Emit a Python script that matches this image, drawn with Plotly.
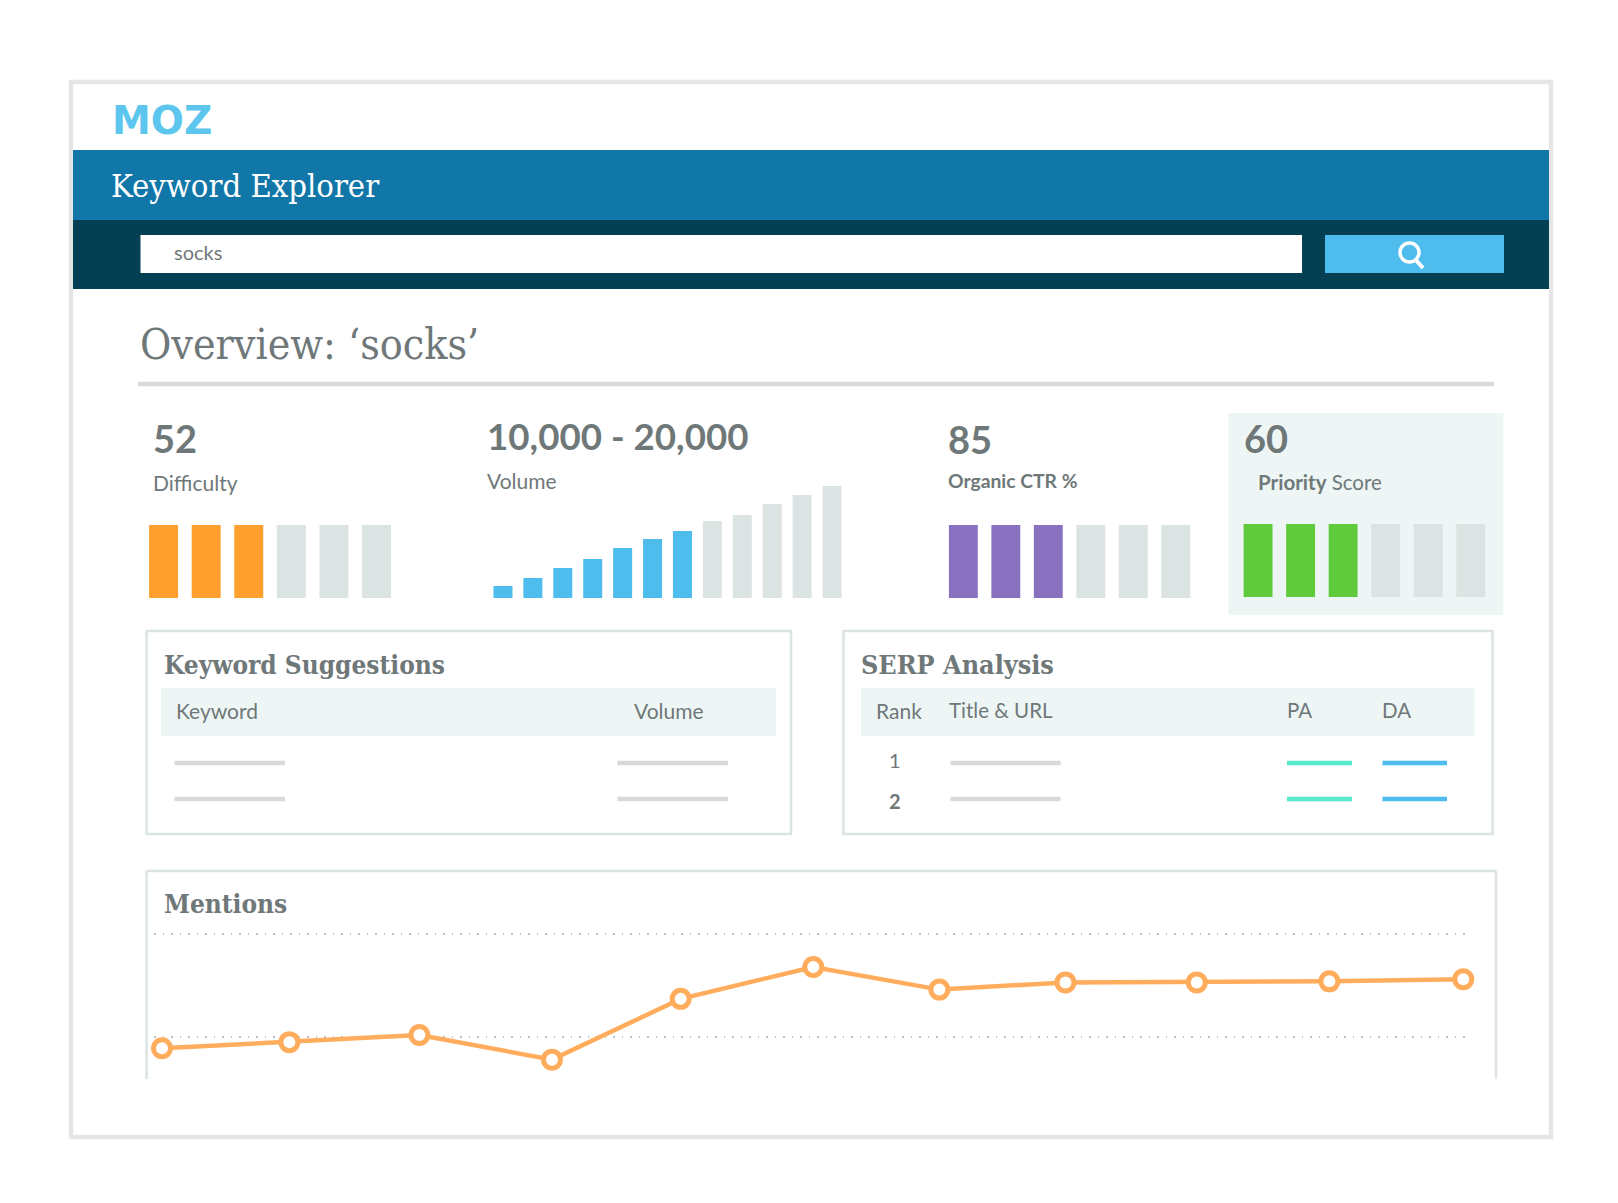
import plotly.graph_objects as go

W, H = 1618, 1203

difficulty_bars = [1, 1, 1, 1, 1, 1]
organic_bars = [1, 1, 1, 1, 1, 1]
priority_bars = [1, 1, 1, 1, 1, 1]
volume_bars = [12, 20, 30, 39, 50, 59, 67, 77, 83, 94, 103, 112]
difficulty_filled = 3
organic_filled = 3
priority_filled = 3
volume_filled = 7

mention_x = [0, 9.8, 19.8, 30.0, 39.9, 50.1, 59.8, 69.5, 79.6, 89.8, 100.1]
mention_y = [89, 95, 102, 78, 137, 168, 146, 153, 153, 154, 156]
mention_grid = [100, 200]

GRAY = '#DCE4E3'
TEXT = '#6F7879'
SLAB = 'DejaVu Serif Condensed, Liberation Serif, serif'
SANS = 'Lato, sans-serif'


def px(x):
    return x / W


def py(y):
    return 1 - y / H


shapes = []
annotations = []


def rect(x0, y0, x1, y1, fill=None, line=None, lw=0):
    shapes.append(dict(type='rect', xref='paper', yref='paper', x0=px(x0), x1=px(x1), y0=py(y0), y1=py(y1),
                       fillcolor=fill or 'rgba(0,0,0,0)', line=dict(color=line or 'rgba(0,0,0,0)', width=lw), layer='below'))


def rule(x0, y0, x1, y1, color, lw=4.5):
    shapes.append(dict(type='line', xref='paper', yref='paper', x0=px(x0), x1=px(x1), y0=py(y0), y1=py(y1),
                       line=dict(color=color, width=lw), layer='below'))


def text(x, y, s, size, color=TEXT, font=SANS, anchor='left'):
    annotations.append(dict(xref='paper', yref='paper', x=px(x), y=py(y), text=s, showarrow=False, xanchor=anchor, yanchor='middle',
                            font=dict(size=size, color=color, family=font), borderpad=0, borderwidth=0))


# page frame and header
rect(71, 82, 1551, 1137, '#FFFFFF', '#E5E6E6', 4.5)
rect(73, 150, 1549, 220, '#1176A8')
rect(73, 220, 1549, 289, '#053F54')
rect(140.5, 235, 1302, 273, '#FFFFFF')
rect(1325, 235, 1504, 273, '#4EBCEC')
shapes.append(dict(type='circle', xref='paper', yref='paper', x0=px(1400), x1=px(1419), y0=py(243), y1=py(262),
                   fillcolor='rgba(0,0,0,0)', line=dict(color='#FFFFFF', width=3.5)))
rule(1415, 259, 1423, 268, '#FFFFFF', 4)
rule(138, 384, 1494, 384, '#DBDBDB', 4.5)

text(112, 120, '<b>MOZ</b>', 39, '#5CC6EE', 'DejaVu Sans')
text(111, 186, 'Keyword Explorer', 32.5, '#FFFFFF', SLAB)
text(174, 252, 'socks', 20)
text(140, 344, 'Overview: ‘socks’', 42.5, TEXT, SLAB)

# score blocks
rect(1228.7, 413, 1503.3, 615, '#EEF6F5')
text(153, 438, '<b>52</b>', 38)
text(153, 482, 'Difficulty', 21)
text(487, 436, '<b>10,000 - 20,000</b>', 36.7)
text(487, 480, 'Volume', 21)
text(948, 439, '<b>85</b>', 38)
text(948, 480, '<b>Organic CTR %</b>', 19.3)
text(1244, 438, '<b>60</b>', 38)
text(1258, 482, '<b>Priority</b> Score', 20.5)

# keyword suggestions panel
rect(146.6, 631, 791, 834, None, GRAY, 2.5)
rect(161, 688, 776, 736, '#EEF6F5')
text(164, 664.5, '<b>Keyword Suggestions</b>', 26, TEXT, SLAB)
text(176, 710, 'Keyword', 21)
text(634, 710, 'Volume', 21)
for y in [763, 799]:
    rule(174.5, y, 285, y, '#D9D9D9')
    rule(617.4, y, 728, y, '#D9D9D9')

# serp panel
rect(843.5, 631, 1492.5, 834, None, GRAY, 2.5)
rect(861, 688, 1474.5, 736, '#EEF6F5')
text(861, 664, '<b>SERP Analysis</b>', 26.7, TEXT, SLAB)
text(876, 710, 'Rank', 21)
text(949, 710, 'Title &amp; URL', 20.5)
text(1287, 710, 'PA', 20.5)
text(1382, 710, 'DA', 20.5)
text(895, 760, '1', 20, anchor='center')
text(895, 801, '<b>2</b>', 20, anchor='center')
for y in [763, 799]:
    rule(950.5, y, 1060.5, y, '#D9D9D9')
    rule(1287, y, 1352, y, '#58E8CC')
    rule(1382.5, y, 1447, y, '#4EBCEC')

# mentions panel, open at the bottom
rule(146.6, 1079, 146.6, 871, GRAY, 2.5)
rule(146.6, 871, 1496, 871, GRAY, 2.5)
rule(1496, 871, 1496, 1079, GRAY, 2.5)
text(164, 904, '<b>Mentions</b>', 26, TEXT, SLAB)


def bar_colors(n, filled, color):
    return [color] * filled + [GRAY] * (n - filled)


def bar_chart(values, filled, color, width, ref, x0, x1, y0, y1):
    fig.add_trace(go.Bar(x=list(range(len(values))), y=values, width=width, marker=dict(color=bar_colors(len(values), filled, color), line=dict(width=0)),
                         xaxis='x' + ref, yaxis='y' + ref, showlegend=False))
    axis = dict(visible=False, fixedrange=True)
    fig.update_layout({'xaxis' + ref: dict(axis, domain=[px(x0), px(x1)], range=[-0.5, len(values) - 0.5], anchor='y' + ref),
                       'yaxis' + ref: dict(axis, domain=[py(y1), py(y0)], range=[0, max(values)], anchor='x' + ref)})


fig = go.Figure()
bar_chart(difficulty_bars, difficulty_filled, '#FFA02E', 0.68, '', 142.3, 397.8, 525, 598)
bar_chart(volume_bars, volume_filled, '#4EBCEC', 0.635, '2', 488, 847, 486, 598)
bar_chart(organic_bars, organic_filled, '#8872BF', 0.68, '3', 942.1, 1197, 525, 598)
bar_chart(priority_bars, priority_filled, '#5FCB3C', 0.68, '4', 1236.8, 1492, 524, 597)

fig.add_trace(go.Scatter(x=mention_x, y=mention_y, mode='lines+markers', xaxis='x5', yaxis='y5', showlegend=False, cliponaxis=False,
                         line=dict(color='#FFAD5C', width=4.5), marker=dict(size=17, color='#FFFFFF', line=dict(color='#FFAD5C', width=5))))
fig.update_layout(
    xaxis5=dict(domain=[px(154), px(1469)], range=[-0.615, 100.54], showgrid=False, zeroline=False, showticklabels=False, ticks='', anchor='y5', fixedrange=True),
    yaxis5=dict(domain=[py(1079), py(900)], range=[59.2, 233], tickvals=mention_grid, showgrid=True, gridcolor='#BEBEBE', griddash='1.5px,7px', gridwidth=1.5,
                zeroline=False, showticklabels=False, ticks='', anchor='x5', fixedrange=True),
)

fig.update_layout(width=W, height=H, margin=dict(l=0, r=0, t=0, b=0, pad=0), paper_bgcolor='#FFFFFF', plot_bgcolor='rgba(0,0,0,0)',
                  shapes=shapes, annotations=annotations, showlegend=False, hovermode=False)

fig.write_html("out.html", post_script="document.body.style.margin='0';", config=dict(displayModeBar=False))
